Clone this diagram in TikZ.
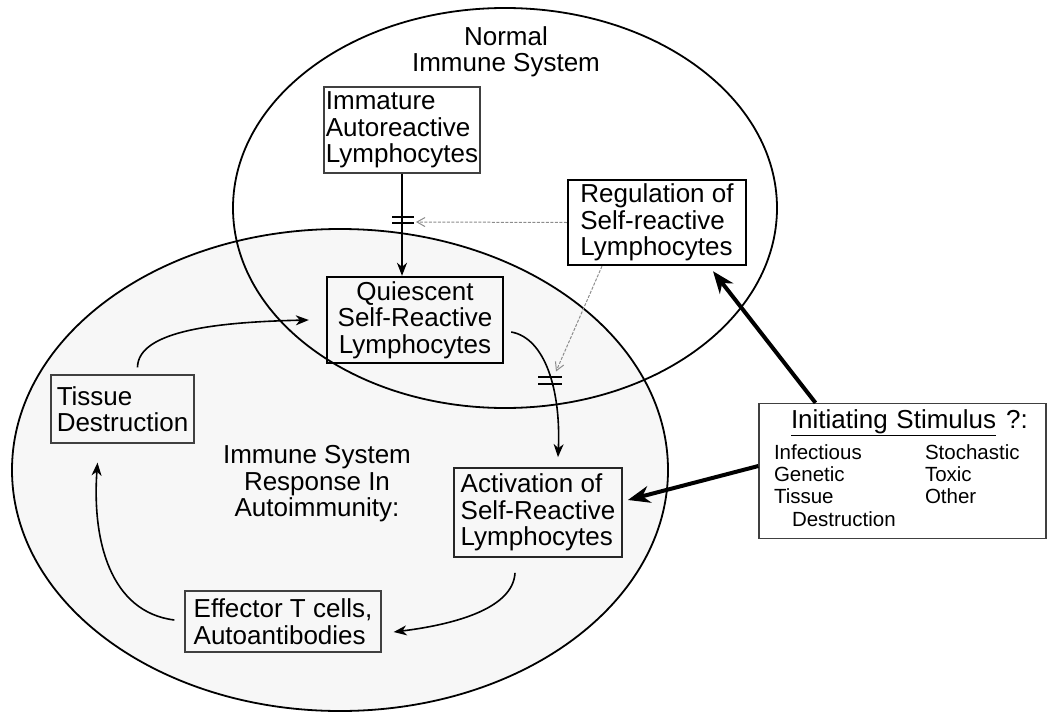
\documentclass[tikz,border=0pt]{standalone}
\usepackage{fontspec}
\setmainfont{Liberation Sans}
\usetikzlibrary{arrows.meta,calc}
\begin{document}
\begin{tikzpicture}[x=1pt,y=-1pt,
  every node/.style={font=\fontsize{26}{26.5}\selectfont},
  boxthin/.style={draw=black!75,line width=1.3pt,inner sep=0pt,align=left},
  boxthick/.style={draw=black,line width=2.4pt,inner sep=0pt,align=left},
  ell/.style={line width=1.8pt},
  flow/.style={line width=1.6pt,-{Stealth[length=13pt,width=10pt,inset=4pt]}},
  grayflow/.style={draw=black!45,line width=1pt,dash pattern=on 3pt off 1.5pt,-{Straight Barb[length=8pt,width=9pt]}},
  bold/.style={line width=4pt,-{Stealth[length=22pt,width=17pt,inset=7pt]}},
  bar/.style={line width=1.5pt}]
\useasboundingbox (0,0) rectangle (1049,717);
% ellipses
\draw[ell,fill=black!3] (340,470) ellipse [x radius=328, y radius=241];
\draw[ell] (505,208) ellipse [x radius=272, y radius=200];
% titles
\node[align=center] (tnorm) at (506,52) {Normal\\Immune System};
\node[align=center] (tauto) at (317,484) {Immune System\\Response In\\Autoimmunity:};
% boxes
\node[boxthin,minimum width=156pt,minimum height=86pt] (imm) at (402,130) {Immature\\Autoreactive\\Lymphocytes};
\node[boxthick,minimum width=178pt,minimum height=85pt] (reg) at (657,222.5) {Regulation of\\Self-reactive\\Lymphocytes};
\node[boxthick,align=center,minimum width=176pt,minimum height=86pt] (qui) at (415,320) {Quiescent\\Self-Reactive\\Lymphocytes};
\node[boxthin,minimum width=143pt,minimum height=68pt] (tis) at (122.5,409) {Tissue\\Destruction};
\node[boxthin,minimum width=196pt,minimum height=61pt] (eff) at (283,621.5) {Effector T cells,\\Autoantibodies};
\node[boxthin,line width=1.8pt,draw=black!85,minimum width=168pt,minimum height=89pt] (act) at (538,512.5) {Activation of\\Self-Reactive\\Lymphocytes};
\node[boxthin,inner xsep=15pt,minimum width=287pt,minimum height=135pt,text width=257pt] (ini) at (902.5,471)
 {\mbox{\hspace*{17pt}\underline{Initiating Stimulus}\hspace{10pt}?:}\\[7pt]
  {\fontsize{20.5}{22.3}\selectfont\begin{tabular}{@{}p{151pt}@{}l@{}}Infectious & Stochastic\\ Genetic & Toxic\\ Tissue & Other\\ \hspace*{18pt}Destruction & \end{tabular}}};
% blocking bars
\coordinate (bar1) at (403,220);
\coordinate (bar2) at (550,380.5);
\draw[bar] ([xshift=-11pt,yshift=3pt]bar1) -- ++(22,0);
\draw[bar] ([xshift=-11pt,yshift=-3pt]bar1) -- ++(22,0);
\draw[bar] ([xshift=-12pt,yshift=3.5pt]bar2) -- ++(24,0);
\draw[bar] ([xshift=-12pt,yshift=-3.5pt]bar2) -- ++(24,0);
% connectors
\draw[flow] (imm.south) -- (imm.south |- qui.north);
\draw[grayflow] (reg.west) -- ([xshift=13pt,yshift=-2pt]bar1);
\draw[grayflow] ([xshift=-55pt]reg.south) -- ([xshift=6pt,yshift=9pt]bar2);
\draw[flow] ([xshift=7pt,yshift=-12pt]qui.east) .. controls (545,338) and (561,390) .. ([xshift=20pt,yshift=10pt]act.north);
\draw[flow] ([xshift=15pt,yshift=7pt]tis.north) .. controls (138,330) and (220,322) .. ([xshift=-17pt]qui.west);
\draw[flow] ([xshift=-10pt,yshift=1.5pt]eff.west) .. controls (110,612) and (92,540) .. ([xshift=-25pt,yshift=-19pt]tis.south);
\draw[flow] ([xshift=-23pt,yshift=-15pt]act.south) .. controls (513,610) and (450,625) .. ([xshift=12pt,yshift=-10.5pt]eff.east);
\draw[bold] ([xshift=-87pt]ini.north) -- ([xshift=56pt,yshift=-5pt]reg.south);
\draw[bold] ([yshift=5pt]ini.west) -- ([xshift=5pt,yshift=12.5pt]act.east);
\end{tikzpicture}
\end{document}
